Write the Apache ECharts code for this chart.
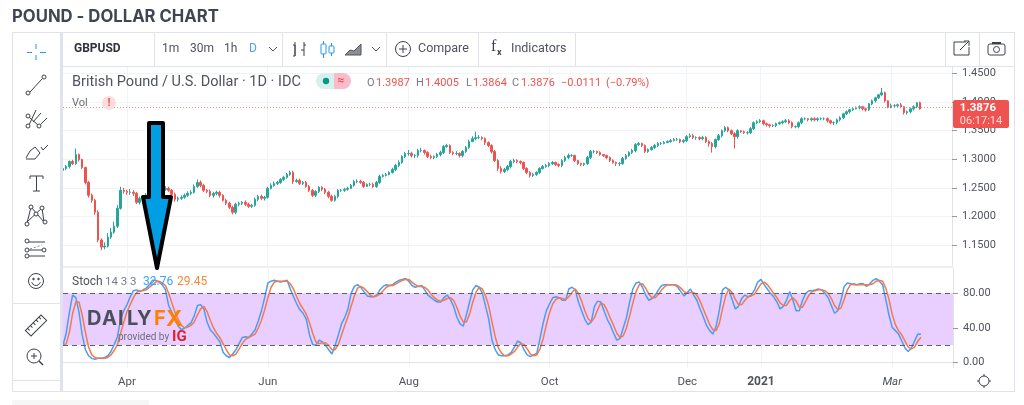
<!DOCTYPE html>
<html>
<head>
<meta charset="utf-8">
<title>Pound - Dollar chart</title>
<script src="https://cdn.jsdelivr.net/npm/echarts@6/dist/echarts.min.js"></script>
<style>
html, body { margin: 0; padding: 0; background: #fff; }
#chart { width: 1024px; height: 405px; }
</style>
</head>
<body>
<div id="chart"></div>
<script>
// candles, Mar 2020 - Mar 2021, one entry per trading day
var closes = [
1.2838,1.2873,1.2960,1.2925,1.3082,1.2995,1.2856,1.2595,1.2370,1.2283,1.2075,1.1589,1.1467,1.1484,1.1641,1.1728,1.1832,1.2144,1.2457,1.2439,
1.2422,1.2422,1.2404,1.2248,1.2318,1.2283,1.2370,1.2422,1.2370,1.2404,1.2439,1.2474,1.2491,1.2457,1.2387,1.2300,1.2318,1.2335,1.2370,1.2404,
1.2422,1.2526,1.2595,1.2543,1.2457,1.2439,1.2370,1.2404,1.2422,1.2370,1.2283,1.2231,1.2161,1.2075,1.2214,1.2231,1.2248,1.2214,1.2179,1.2196,
1.2300,1.2352,1.2318,1.2335,1.2491,1.2543,1.2578,1.2595,1.2648,1.2682,1.2734,1.2769,1.2613,1.2630,1.2578,1.2595,1.2526,1.2457,1.2370,1.2439,
1.2509,1.2474,1.2422,1.2352,1.2283,1.2352,1.2457,1.2457,1.2474,1.2491,1.2543,1.2613,1.2613,1.2595,1.2526,1.2561,1.2561,1.2526,1.2595,1.2700,
1.2717,1.2734,1.2769,1.2821,1.2891,1.2943,1.3047,1.3099,1.3099,1.3064,1.3064,1.3151,1.3151,1.3116,1.3047,1.3029,1.3047,1.3082,1.3116,1.3220,
1.3238,1.3116,1.3099,1.3099,1.3064,1.3134,1.3203,1.3307,1.3359,1.3377,1.3377,1.3359,1.3290,1.3238,1.3134,1.2977,1.2838,1.2786,1.2821,1.2873,
1.2960,1.2977,1.2960,1.2943,1.2838,1.2769,1.2717,1.2734,1.2769,1.2838,1.2873,1.2891,1.2925,1.2943,1.2908,1.2891,1.2977,1.3029,1.3064,1.3064,
1.2977,1.2925,1.2908,1.2925,1.3029,1.3134,1.3134,1.3116,1.3082,1.3064,1.3029,1.2977,1.2943,1.2925,1.2925,1.3012,1.3064,1.3116,1.3151,1.3255,
1.3273,1.3238,1.3134,1.3168,1.3203,1.3238,1.3273,1.3273,1.3290,1.3307,1.3325,1.3342,1.3342,1.3307,1.3325,1.3394,1.3411,1.3377,1.3377,1.3359,
1.3377,1.3307,1.3273,1.3220,1.3342,1.3411,1.3498,1.3550,1.3498,1.3446,1.3394,1.3498,1.3481,1.3464,1.3464,1.3533,1.3637,1.3654,1.3672,1.3620,
1.3602,1.3585,1.3585,1.3620,1.3637,1.3654,1.3672,1.3637,1.3568,1.3568,1.3637,1.3707,1.3707,1.3689,1.3707,1.3689,1.3707,1.3707,1.3707,1.3672,
1.3637,1.3637,1.3689,1.3724,1.3793,1.3828,1.3863,1.3880,1.3898,1.3915,1.3880,1.3863,1.3967,1.4019,1.4071,1.4123,1.4158,1.4019,1.3915,1.3932,
1.3932,1.3950,1.3915,1.3811,1.3828,1.3880,1.3915,1.3984,1.3876
];
var opens = [
1.2804,1.2838,1.2873,1.2960,1.2925,1.3082,1.2995,1.2856,1.2595,1.2370,1.2283,1.2075,1.1589,1.1467,1.1484,1.1641,1.1728,1.1832,1.2144,1.2457,
1.2439,1.2422,1.2422,1.2404,1.2248,1.2318,1.2283,1.2370,1.2422,1.2370,1.2404,1.2439,1.2474,1.2491,1.2457,1.2387,1.2300,1.2318,1.2335,1.2370,
1.2404,1.2422,1.2526,1.2595,1.2543,1.2457,1.2439,1.2370,1.2404,1.2422,1.2370,1.2283,1.2231,1.2161,1.2075,1.2214,1.2231,1.2248,1.2214,1.2179,
1.2196,1.2300,1.2352,1.2318,1.2335,1.2491,1.2543,1.2578,1.2595,1.2648,1.2682,1.2734,1.2769,1.2613,1.2630,1.2578,1.2595,1.2526,1.2457,1.2370,
1.2439,1.2509,1.2474,1.2422,1.2352,1.2283,1.2352,1.2457,1.2457,1.2474,1.2491,1.2543,1.2613,1.2613,1.2595,1.2526,1.2561,1.2561,1.2526,1.2595,
1.2700,1.2717,1.2734,1.2769,1.2821,1.2891,1.2943,1.3047,1.3099,1.3099,1.3064,1.3064,1.3151,1.3151,1.3116,1.3047,1.3029,1.3047,1.3082,1.3116,
1.3220,1.3238,1.3116,1.3099,1.3099,1.3064,1.3134,1.3203,1.3307,1.3359,1.3377,1.3377,1.3359,1.3290,1.3238,1.3134,1.2977,1.2838,1.2786,1.2821,
1.2873,1.2960,1.2977,1.2960,1.2943,1.2838,1.2769,1.2717,1.2734,1.2769,1.2838,1.2873,1.2891,1.2925,1.2943,1.2908,1.2891,1.2977,1.3029,1.3064,
1.3064,1.2977,1.2925,1.2908,1.2925,1.3029,1.3134,1.3134,1.3116,1.3082,1.3064,1.3029,1.2977,1.2943,1.2925,1.2925,1.3012,1.3064,1.3116,1.3151,
1.3255,1.3273,1.3238,1.3134,1.3168,1.3203,1.3238,1.3273,1.3273,1.3290,1.3307,1.3325,1.3342,1.3342,1.3307,1.3325,1.3394,1.3411,1.3377,1.3377,
1.3359,1.3377,1.3307,1.3273,1.3220,1.3342,1.3411,1.3498,1.3550,1.3498,1.3446,1.3394,1.3498,1.3481,1.3464,1.3464,1.3533,1.3637,1.3654,1.3672,
1.3620,1.3602,1.3585,1.3585,1.3620,1.3637,1.3654,1.3672,1.3637,1.3568,1.3568,1.3637,1.3707,1.3707,1.3689,1.3707,1.3689,1.3707,1.3707,1.3707,
1.3672,1.3637,1.3637,1.3689,1.3724,1.3793,1.3828,1.3863,1.3880,1.3898,1.3915,1.3880,1.3863,1.3967,1.4019,1.4071,1.4123,1.4158,1.4019,1.3915,
1.3932,1.3932,1.3950,1.3915,1.3811,1.3828,1.3880,1.3915,1.3987
];
var highs = [
1.287,1.290,1.298,1.299,1.3186,1.310,1.301,1.287,1.262,1.240,1.231,1.211,1.162,1.155,1.171,1.180,1.191,1.220,1.252,1.250,
1.247,1.248,1.246,1.243,1.235,1.235,1.241,1.246,1.247,1.245,1.248,1.251,1.253,1.252,1.248,1.242,1.235,1.237,1.240,1.244,
1.246,1.256,1.2648,1.263,1.257,1.248,1.247,1.243,1.245,1.245,1.239,1.231,1.226,1.219,1.224,1.226,1.227,1.228,1.224,1.222,
1.233,1.238,1.238,1.236,1.252,1.258,1.261,1.262,1.267,1.271,1.276,1.280,1.280,1.266,1.266,1.262,1.262,1.255,1.248,1.246,
1.253,1.253,1.250,1.245,1.238,1.238,1.248,1.248,1.250,1.252,1.257,1.264,1.265,1.264,1.262,1.258,1.259,1.259,1.262,1.273,
1.274,1.276,1.279,1.285,1.292,1.298,1.307,1.313,1.316,1.313,1.309,1.318,1.320,1.317,1.314,1.308,1.307,1.311,1.315,1.325,
1.327,1.326,1.314,1.314,1.312,1.316,1.323,1.334,1.340,1.3481,1.342,1.340,1.338,1.331,1.326,1.316,1.300,1.288,1.285,1.290,
1.299,1.301,1.300,1.298,1.296,1.286,1.279,1.276,1.279,1.286,1.290,1.292,1.295,1.297,1.296,1.293,1.300,1.306,1.310,1.309,
1.308,1.299,1.294,1.294,1.306,1.316,1.316,1.315,1.314,1.309,1.308,1.305,1.300,1.296,1.295,1.304,1.309,1.314,1.318,1.328,
1.330,1.329,1.326,1.319,1.323,1.327,1.330,1.330,1.332,1.333,1.335,1.337,1.337,1.336,1.335,1.342,1.345,1.344,1.340,1.340,
1.341,1.340,1.333,1.330,1.336,1.344,1.352,1.358,1.357,1.352,1.347,1.352,1.351,1.350,1.349,1.356,1.366,1.368,1.370,1.369,
1.364,1.362,1.361,1.364,1.366,1.368,1.370,1.370,1.366,1.359,1.366,1.373,1.373,1.372,1.373,1.373,1.373,1.373,1.373,1.373,
1.369,1.366,1.371,1.375,1.381,1.385,1.388,1.390,1.392,1.394,1.393,1.390,1.398,1.404,1.409,1.414,1.4245,1.418,1.403,1.397,
1.396,1.397,1.398,1.393,1.385,1.390,1.394,1.400,1.4005
];
var lows = [
1.277,1.281,1.284,1.290,1.290,1.296,1.283,1.256,1.233,1.224,1.203,1.155,1.1415,1.143,1.146,1.161,1.170,1.180,1.212,1.240,
1.238,1.238,1.236,1.222,1.221,1.225,1.226,1.234,1.233,1.234,1.238,1.241,1.245,1.243,1.236,1.226,1.226,1.229,1.231,1.234,
1.237,1.240,1.250,1.251,1.243,1.241,1.234,1.233,1.237,1.233,1.226,1.220,1.213,1.204,1.204,1.218,1.220,1.218,1.215,1.215,
1.217,1.227,1.229,1.228,1.231,1.247,1.252,1.255,1.257,1.262,1.266,1.271,1.257,1.259,1.255,1.255,1.250,1.243,1.234,1.234,
1.241,1.244,1.239,1.232,1.226,1.226,1.232,1.243,1.243,1.245,1.251,1.252,1.258,1.257,1.250,1.252,1.253,1.250,1.250,1.257,
1.268,1.270,1.272,1.275,1.279,1.286,1.292,1.302,1.306,1.303,1.302,1.303,1.312,1.308,1.302,1.300,1.300,1.302,1.305,1.309,
1.320,1.309,1.307,1.307,1.303,1.303,1.311,1.318,1.330,1.333,1.335,1.333,1.325,1.321,1.310,1.295,1.279,1.275,1.276,1.279,
1.284,1.293,1.293,1.291,1.281,1.274,1.268,1.269,1.271,1.274,1.282,1.285,1.286,1.290,1.288,1.286,1.286,1.295,1.300,1.304,
1.295,1.290,1.288,1.288,1.290,1.300,1.310,1.309,1.306,1.304,1.300,1.295,1.292,1.288,1.288,1.290,1.299,1.304,1.309,1.312,
1.323,1.321,1.311,1.311,1.315,1.318,1.321,1.325,1.326,1.328,1.329,1.331,1.332,1.328,1.328,1.330,1.337,1.335,1.334,1.333,
1.333,1.328,1.322,1.3116,1.319,1.332,1.338,1.347,1.347,1.342,1.3186,1.336,1.346,1.344,1.343,1.344,1.351,1.361,1.363,1.359,
1.357,1.355,1.356,1.356,1.360,1.361,1.363,1.361,1.354,1.354,1.354,1.361,1.368,1.366,1.366,1.366,1.366,1.368,1.368,1.364,
1.361,1.360,1.361,1.366,1.370,1.377,1.380,1.384,1.387,1.387,1.385,1.383,1.384,1.394,1.399,1.405,1.410,1.399,1.389,1.389,
1.390,1.391,1.389,1.378,1.378,1.380,1.385,1.389,1.3864
];

// stochastic pane
var stochK = [
20,34,58,78,75,58,32,15,8,5,4,5,5,6,8,13,21,30,50,60,
67,76,83,84,82,84,86,90,95,95,93,90,84,66,58,50,42,38,40,43,
46,54,66,67,62,47,38,34,29,24,12,8,6,10,15,22,29,30,29,33,
38,48,60,75,92,94,95,94,93,94,95,85,76,68,61,57,50,32,21,20,
26,24,20,15,10,20,32,45,52,62,80,88,90,87,82,77,76,76,78,84,
88,90,89,90,93,95,96,97,94,89,87,88,89,84,78,75,72,70,70,75,
78,73,65,53,45,42,55,70,84,89,87,80,65,50,26,15,9,8,8,9,
12,18,25,23,15,9,7,9,11,28,46,60,68,75,76,75,72,72,85,87,
84,70,60,50,44,47,65,71,70,60,50,43,34,26,28,40,52,70,85,92,
93,87,78,72,74,78,84,89,90,90,90,90,87,82,77,81,85,78,72,62,
53,43,37,33,42,60,84,87,84,73,62,65,74,78,76,78,84,93,96,90,
85,80,76,70,62,65,72,82,72,60,60,72,80,83,83,84,85,84,80,75,
66,57,60,72,88,92,91,90,90,91,91,88,91,95,97,94,90,73,55,41,
37,33,25,17,13,17,25,33,32.76
];
var stochD = [
20,22,35,57,70,70,55,35,18,9,6,5,5,5,6,9,14,21,34,47,
59,67,75,81,83,83,84,87,90,93,94,92,89,80,69,58,50,43,40,41,
43,47,55,62,65,59,49,40,34,29,22,15,9,8,10,16,22,27,29,31,
33,40,49,61,75,87,93,94,94,94,94,91,85,76,68,62,56,46,34,24,
22,23,23,20,15,15,21,32,43,53,65,77,86,88,86,82,78,76,77,79,
83,87,89,89,91,93,95,96,96,93,90,88,88,87,84,79,75,72,71,72,
74,75,72,64,54,47,47,56,70,81,87,85,77,65,47,30,17,11,8,8,
10,13,18,22,21,16,10,8,9,16,28,44,58,68,73,75,74,73,76,81,
85,80,71,60,51,47,52,61,69,67,60,51,43,34,29,31,40,54,69,82,
90,91,86,79,75,75,79,84,88,90,90,90,89,86,82,80,81,81,78,71,
62,53,44,38,37,45,62,77,85,81,73,67,67,72,76,77,79,85,91,93,
90,85,80,75,69,66,66,72,75,71,64,64,71,78,82,83,84,84,83,80,
74,66,61,63,73,84,90,91,90,90,90,90,90,91,94,95,94,86,73,56,
44,37,32,25,18,16,18,25,29.45
];

// axes
var priceTicks = [1.15, 1.20, 1.25, 1.30, 1.35, 1.40, 1.45];
var stochTicks = [0, 40, 80];
var monthLabels = ['Apr', 'Jun', 'Aug', 'Oct', 'Dec', '2021', 'Mar'];
var monthIdx = [20, 64, 108, 152, 195, 218, 259];
var lastPrice = 1.3876;
var barCount = 279;

var gridColor = '#f0f3fa';
var frameColor = '#e0e3eb';
var textColor = '#50535e';
var font = 'Roboto';

var categories = [];
for (var n = 0; n < barCount; n++) {
    categories.push(n);
}

var candles = closes.map(function (c, i) {
    return [opens[i], c, lows[i], highs[i]];
});

function isMonth(index) {
    return monthIdx.indexOf(index) >= 0;
}

// small helpers for the toolbar drawing
function ln(x1, y1, x2, y2, color, w) {
    return { type: 'line', z: 100, shape: { x1: x1, y1: y1, x2: x2, y2: y2 }, style: { stroke: color || frameColor, lineWidth: w || 1 } };
}
function circ(cx, cy, r, stroke, fill, w) {
    return { type: 'circle', z: 100, shape: { cx: cx, cy: cy, r: r }, style: { stroke: stroke || null, fill: fill || '#fff', lineWidth: w || 1 } };
}
function rect(x, y, w, h, fill, r, stroke) {
    return { type: 'rect', z: 100, shape: { x: x, y: y, width: w, height: h, r: r || 0 }, style: { fill: fill, stroke: stroke || null } };
}
function poly(points, stroke, w) {
    return { type: 'polyline', z: 100, shape: { points: points }, style: { stroke: stroke, lineWidth: w || 1, fill: null } };
}
function txt(x, y, text, size, color, weight, align, family) {
    return {
        type: 'text', z: 101, x: x, y: y,
        style: {
            text: text, fill: color || textColor, align: align || 'left', verticalAlign: 'middle',
            font: (weight || 'normal') + ' ' + size + 'px "' + (family || font) + '", sans-serif'
        }
    };
}

var icon = '#3c4049';
var gfx = [
    // title and frame
    txt(12, 17, 'POUND - DOLLAR CHART', 16.7, '#3f4652', 'bold', 'left', 'Inter'),
    ln(12, 32.5, 1014, 32.5), ln(12.5, 32, 12.5, 392), ln(1014.5, 32, 1014.5, 392), ln(12, 391.5, 1015, 391.5),
    rect(60, 32, 3, 360, frameColor),
    ln(63, 66.5, 1014, 66.5),
    ln(154.5, 32, 154.5, 66), ln(282.5, 32, 282.5, 66), ln(386.5, 32, 386.5, 66), ln(478.5, 32, 478.5, 66),
    ln(575.5, 32, 575.5, 66), ln(945.5, 32, 945.5, 66), ln(979.5, 32, 979.5, 66),
    ln(12, 303.5, 60, 303.5), ln(12, 380.5, 60, 380.5),
    ln(63, 267, 953, 267, '#eceef4', 2),
    rect(12, 400, 137, 5, '#f6f6f6'),

    // top toolbar
    txt(74, 49, 'GBPUSD', 12, '#2f323b', 'bold'),
    txt(162, 49, '1m', 12), txt(190, 49, '30m', 12), txt(224, 49, '1h', 12),
    txt(249, 49, 'D', 12, '#4f9ff0'),
    poly([[269, 47], [273, 51], [277, 47]], '#50535e'),
    poly([[293, 45], [295, 45], [295, 56], [293, 56]], icon), ln(295, 42, 295, 56, icon),
    ln(304, 42, 304, 56, icon), poly([[304, 45], [306, 45]], icon), poly([[301, 50], [304, 50]], icon),
    ln(323.5, 41, 323.5, 58, '#2196f3'), rect(321, 44, 5, 10, '#fff', 1, '#2196f3'),
    ln(331.5, 43, 331.5, 56, '#2196f3'), rect(329, 46, 5, 7, '#fff', 1, '#2196f3'),
    { type: 'polygon', z: 100, shape: { points: [[345, 55], [350, 50], [354, 51], [361, 44], [361, 55]] }, style: { fill: '#8a8d96', stroke: '#555', lineWidth: 1 } },
    poly([[372, 47], [376, 51], [380, 47]], '#50535e'),
    circ(403, 49, 7.5, icon, '#fff'), ln(399, 49, 407, 49, icon), ln(403, 45, 403, 53, icon),
    txt(418, 49, 'Compare', 12.5),
    txt(491, 47, 'f', 16, icon, 'normal', 'left', 'Liberation Serif'), txt(497, 53, 'x', 9, icon, 'bold'),
    txt(511, 49, 'Indicators', 12.5),
    poly([[966, 42], [954, 42], [954, 55], [969, 55], [969, 47]], icon),
    poly([[960, 50], [969, 41]], icon), poly([[964, 41], [969, 41], [969, 46]], icon),
    { type: 'rect', z: 100, shape: { x: 988, y: 44, width: 17, height: 11, r: 2 }, style: { fill: '#fff', stroke: icon } },
    rect(992, 42, 9, 2, icon), circ(996.5, 49.5, 3, icon, '#fff'),

    // left toolbar
    ln(36, 44, 36, 49, '#2196f3'), ln(36, 55, 36, 60, '#2196f3'), ln(27, 52.5, 32, 52.5, '#2196f3'), ln(40, 52.5, 46, 52.5, '#2196f3'),
    ln(30, 92, 42, 79, icon), circ(28, 93, 2, icon), circ(44, 77, 2, icon),
    ln(29, 125, 36, 110, icon), ln(33, 122, 41, 113, icon), ln(40, 125, 47, 118, icon), ln(29, 117, 38, 125, icon),
    circ(28, 116, 2, icon), circ(28, 126, 2, icon), circ(39, 126, 2, icon),
    poly([[26, 158], [30, 151], [35, 147], [40, 153], [35, 159], [26, 159]], icon),
    poly([[41, 147], [43, 150], [48, 145]], icon),
    ln(30, 176, 43, 176, icon), ln(36.5, 176, 36.5, 191, icon), ln(33, 191, 40, 191, icon), ln(30, 176, 30, 179, icon), ln(43, 176, 43, 179, icon),
    poly([[27, 223], [31, 207], [44, 222], [42, 208], [27, 222]], icon),
    circ(27, 224, 2, icon), circ(31, 207, 2, icon), circ(42, 208, 2, icon), circ(45, 222, 2, icon), circ(36, 214, 2, icon),
    ln(28, 242, 45, 242, icon), ln(28, 256, 45, 256, icon), ln(28, 250, 42, 250, icon),
    { type: 'line', z: 100, shape: { x1: 30, y1: 249, x2: 42, y2: 245 }, style: { stroke: '#888', lineDash: [2, 2] } },
    circ(27, 241, 2, icon), circ(27, 250, 2, icon), circ(27, 256, 2, icon), circ(44, 250, 2, icon),
    circ(36, 281, 7.5, icon, '#fff'), circ(33.5, 279, 0.8, icon, icon), circ(38.5, 279, 0.8, icon, icon),
    { type: 'arc', z: 100, shape: { cx: 36, cy: 281, r: 4.5, startAngle: 0.3, endAngle: 2.85 }, style: { stroke: icon, fill: null } },
    { type: 'polygon', z: 100, rotation: 0.78, x: 36, y: 325.5, shape: { points: [[-11, -4], [11, -4], [11, 4], [-11, 4]] }, style: { fill: '#fff', stroke: icon } },
    circ(34, 356, 7, icon, '#fff'), ln(31, 356, 37, 356, icon), ln(34, 353, 34, 359, icon), ln(39, 361, 43, 365, icon, 1.5),

    // legend rows
    txt(72, 82, 'British Pound / U.S. Dollar \u00b7 1D \u00b7 IDC', 14.5),
    rect(316, 73, 18, 16, '#d7f0ed', [8, 0, 0, 8]),
    rect(334, 73, 17, 16, '#f9bccb', [0, 8, 8, 0]),
    circ(326, 81, 3.2, null, '#089981'),
    txt(341, 81, '\u2248', 12, '#ef5350', 'bold', 'center'),
    txt(367, 83, 'O', 11, '#787b86'), txt(376, 83, '1.3987', 11, '#ef5350'),
    txt(416, 83, 'H', 11, '#787b86'), txt(425, 83, '1.4005', 11, '#ef5350'),
    txt(466, 83, 'L', 11, '#787b86'), txt(473, 83, '1.3864', 11, '#ef5350'),
    txt(512, 83, 'C', 11, '#787b86'), txt(521, 83, '1.3876', 11, '#ef5350'),
    txt(561, 83, '\u22120.0111', 11, '#ef5350'), txt(606, 83, '(\u22120.79%)', 11, '#ef5350'),
    txt(72, 103, 'Vol', 11, '#6a6d78'),
    circ(109, 103, 7, null, '#fbdde0'),
    txt(109, 103, '!', 11, '#ef5350', 'bold', 'center'),
    txt(72, 282, 'Stoch', 12), txt(105, 282, '14 3 3', 11.5, '#787b86'),
    txt(143, 282, '32.76', 12, '#3aa3f5'), txt(177, 282, '29.45', 12, '#f8893a'),

    // last price label
    rect(953, 100, 56, 28, '#ef5350', 2),
    txt(978, 108, '1.3876', 11.5, '#fff', 'bold', 'center'),
    txt(981, 121, '06:17:14', 11, '#fddcdc', 'normal', 'center'),

    // gear
    circ(984, 381, 5, icon, '#fff'),
    ln(984, 374, 984, 376, icon), ln(984, 386, 984, 388, icon), ln(977, 381, 979, 381, icon), ln(989, 381, 991, 381, icon),

    // arrow drawn on top of the chart
    {
        type: 'polygon', z: 110,
        shape: { points: [[149, 123], [163, 123], [163, 197], [171, 197], [157, 268], [143, 197], [149, 197]] },
        style: { fill: '#009fe3', stroke: '#000', lineWidth: 4, lineJoin: 'round' }
    }
];

// ruler notches, rotated with the ruler body
var notchX = [-8, -4, 0, 4, 8];
notchX.forEach(function (nx) {
    gfx.push({
        type: 'line', z: 101, rotation: 0.78, x: 36, y: 325.5,
        shape: { x1: nx, y1: -4, x2: nx, y2: -1 }, style: { stroke: icon }
    });
});

// DailyFX watermark, letters set one by one for the wide tracking
var logoLetters = ['D', 'A', 'I', 'L', 'Y', 'F', 'X'];
var logoX = [87, 102, 118, 127, 137, 154, 166];
logoLetters.forEach(function (l, i) {
    gfx.push(txt(logoX[i], 319, l, i === 6 ? 22 : 20, i < 5 ? '#4a4f59' : '#ff7f00', 'bold', 'left', 'Inter'));
});
gfx.push(txt(118, 337, 'provided by', 10, '#6d6f78'));
gfx.push(txt(172, 337, 'IG', 15, '#e2202c', 'bold'));

var chart = echarts.init(document.getElementById('chart'));

var option = {
    animation: false,
    backgroundColor: '#fff',
    graphic: gfx,
    grid: [
        { left: 63, right: 72, top: 67, height: 199 },
        { left: 63, right: 71, top: 268, height: 100 }
    ],
    xAxis: [
        {
            type: 'category', gridIndex: 0, data: categories, boundaryGap: false,
            axisLine: { show: false }, axisTick: { show: false }, axisLabel: { show: false },
            splitLine: { show: true, interval: isMonth, lineStyle: { color: gridColor } }
        },
        {
            type: 'category', gridIndex: 1, data: categories, boundaryGap: false,
            axisLine: { show: true, lineStyle: { color: frameColor } },
            axisTick: { show: false },
            axisLabel: {
                interval: isMonth, margin: 8, color: textColor, fontFamily: font, fontSize: 11.5,
                formatter: function (value) {
                    var label = monthLabels[monthIdx.indexOf(Number(value))];
                    if (label === '2021') {
                        return '{b|2021}';
                    }
                    return label === 'Mar' ? '{i|Mar}' : label;
                },
                rich: {
                    b: { fontWeight: 'bold', fontFamily: font, fontSize: 12, color: textColor },
                    i: { fontStyle: 'italic', fontFamily: font, fontSize: 11.5, color: textColor }
                }
            },
            splitLine: { show: true, interval: isMonth, lineStyle: { color: gridColor } }
        }
    ],
    yAxis: [
        {
            type: 'value', gridIndex: 0, position: 'right', min: 1.1137, max: 1.4609,
            axisLine: { show: true, lineStyle: { color: frameColor } },
            axisTick: { show: true, length: 5, customValues: priceTicks, lineStyle: { color: '#9598a1' } },
            axisLabel: {
                customValues: priceTicks, margin: 10, color: textColor, fontFamily: font, fontSize: 11,
                formatter: function (v) { return v.toFixed(4); }
            },
            splitLine: { show: true, customValues: priceTicks, lineStyle: { color: gridColor } }
        },
        {
            type: 'value', gridIndex: 1, position: 'right', min: -6.1, max: 109.2,
            axisLine: { show: true, lineStyle: { color: frameColor } },
            axisTick: { show: true, length: 5, customValues: stochTicks, lineStyle: { color: '#9598a1' } },
            axisLabel: {
                customValues: stochTicks, margin: 10, color: textColor, fontFamily: font, fontSize: 11,
                formatter: function (v) { return v.toFixed(2); }
            },
            splitLine: { show: true, customValues: stochTicks, lineStyle: { color: gridColor } }
        }
    ],
    series: [
        {
            name: 'GBPUSD', type: 'candlestick', xAxisIndex: 0, yAxisIndex: 0,
            data: candles, barWidth: 2,
            itemStyle: { color: '#26a69a', color0: '#ef5350', borderColor: '#26a69a', borderColor0: '#ef5350', borderWidth: 1 },
            markLine: {
                silent: true, symbol: 'none', label: { show: false },
                lineStyle: { color: '#f28b88', type: [1, 2], width: 1 },
                data: [{ yAxis: lastPrice }]
            }
        },
        {
            name: '%K', type: 'line', xAxisIndex: 1, yAxisIndex: 1, data: stochK,
            showSymbol: false, lineStyle: { color: '#4c9cf1', width: 1.5 }, z: 3,
            markArea: {
                silent: true, itemStyle: { color: '#e9cfff' },
                data: [[{ yAxis: 80 }, { yAxis: 20 }]]
            },
            markLine: {
                silent: true, symbol: 'none', label: { show: false },
                lineStyle: { color: '#5d5f6b', type: [5, 4], width: 1 },
                data: [{ yAxis: 80 }, { yAxis: 20 }]
            }
        },
        {
            name: '%D', type: 'line', xAxisIndex: 1, yAxisIndex: 1, data: stochD,
            showSymbol: false, lineStyle: { color: '#f4794b', width: 1.5 }, z: 4
        }
    ]
};

chart.setOption(option);
</script>
</body>
</html>
